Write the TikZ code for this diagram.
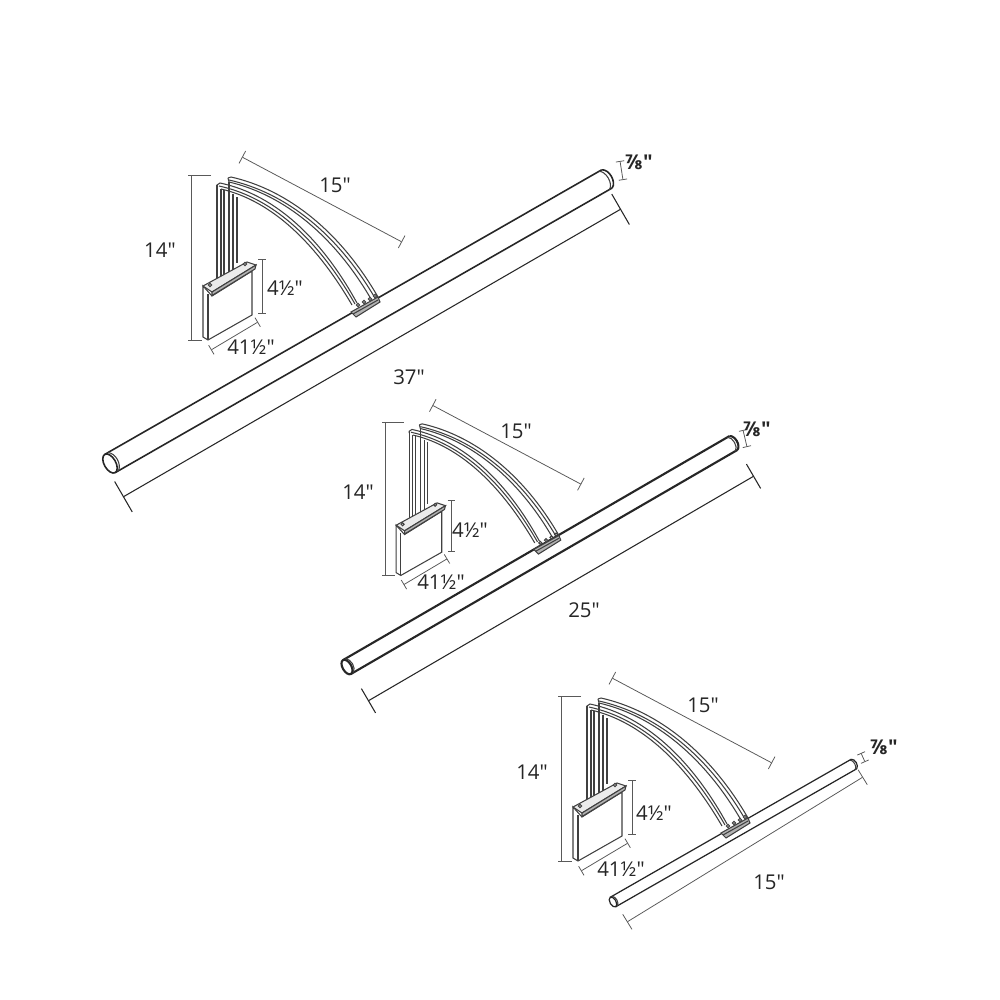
\documentclass[tikz,border=0pt]{standalone}
\usepackage{fontspec}
\newfontfamily\labelfont{Open Sans}
\usetikzlibrary{arrows.meta}
\tikzset{
    x=0.01cm, y=-0.01cm,
    armline/.style={draw=black!75, line width=0.3pt},
    dimline/.style={draw=black!65, line width=0.22pt},
    lenline/.style={draw=black!85, line width=0.3pt},
    dimlabel/.style={font=\labelfont\fontsize{5.8}{6}\selectfont, text=black!85, inner sep=0pt},
    smalllabel/.style={font=\labelfont\fontsize{5.8}{6}\selectfont\bfseries, text=black!85, inner sep=0pt}
}
\newcommand{\lamptube}[6]{
    \begin{scope}[shift={(#1,#2)}, rotate=#3, line width=#6]
        \draw[black!85] (0,#5) -- (#4,#5) (0,-#5) -- (#4,-#5);
        \draw[black!85, fill=white] (0,0) ellipse ({0.55*#5} and #5);
        \draw[armline] ({0.35*#5},#5) .. controls ({0.95*#5},{0.6*#5}) and ({0.95*#5},{-0.6*#5}) .. ({0.35*#5},-#5);
        \draw[black!85] (#4,#5) .. controls ({#4+0.65*#5},{0.7*#5}) and ({#4+0.65*#5},{-0.7*#5}) .. (#4,-#5);
        \draw[armline] ({#4-0.3*#5},#5) .. controls ({#4+0.3*#5},{0.7*#5}) and ({#4+0.3*#5},{-0.7*#5}) .. ({#4-0.3*#5},-#5);
    \end{scope}
}
\newcommand{\lamphead}[3]{
    \begin{scope}[shift={(#1,#2)}, scale=#3]
        % arms
        \draw[armline] (40,2) .. controls (98,15) and (150,58) .. (187,122);
        \draw[armline] (37,3) -- (40,2);
        \draw[armline] (37,3) -- (38,7) .. controls (94,20) and (144,62) .. (180,124);
        \draw[armline] (38,5) .. controls (96,18) and (147,60) .. (184,123);
        \draw[armline] (26,12) -- (26,10) -- (29,8) .. controls (86,20) and (132,66) .. (166,128);
        \draw[armline] (28,11) .. controls (84,23) and (129,68) .. (164,129);
        \draw[armline] (30,14) .. controls (82,26) and (126,70) .. (161,130);
        \draw[armline] (26,10) -- (26,105);
        \draw[armline] (30,14) -- (30,103);
        \draw[armline] (33,15) -- (33,101);
        \draw[armline] (38,7) -- (38,97);
        \draw[armline] (42,19) -- (42,96);
        \draw[armline] (46,22) -- (46,88);
        % mounting plate
        \draw[armline, fill=white] (12,111) -- (12,162) -- (17,165) -- (61,140) -- (61,96) -- (21,121) -- cycle;
        \draw[armline] (17,119) -- (17,165);
        \draw[armline, fill=black!8] (12,111) -- (56,87) -- (65,90) -- (21,117) -- cycle;
        \draw[armline, fill=black!30] (21,117) -- (65,90) -- (64,94) -- (21,120.5) -- cycle;
        \draw[armline, fill=white] (19,110) circle (1.6) (54,89) circle (1.6);
        % clamp on the tube
        \draw[armline, fill=black!30] (160,137) -- (187,122) -- (189,127) -- (165,142) -- cycle;
        \draw[armline] (162,139) -- (187,125);
        \foreach \bx/\by in {167/130, 173/127, 179/124, 184/121}
            \draw[armline, fill=white] (\bx,\by) circle (1.6);
        % dimensions
        \draw[dimline] (20,0) -- (-3,0) (0,0) -- (0,165) (-3,165) -- (11,165);
        \draw[dimline, {Bar[width=2pt]}-{Bar[width=2pt]}] (71,84) -- (71,139);
        \draw[dimline, {Bar[width=3pt]}-{Bar[width=3pt]}] (20,175) -- (67,147);
        \draw[dimline, {Bar[width=4pt]}-{Bar[width=4pt]}] (51,-18) -- (211,67);
    \end{scope}
}
\begin{document}
\begin{tikzpicture}
    \useasboundingbox (0,0) rectangle (1000,1000);
    \fill[white] (0,0) rectangle (1000,1000);

    \lamptube{110}{463.5}{29.8}{572.7}{10.5}{0.45pt}
    \lamptube{347}{667}{30.1}{446.7}{8}{0.6pt}
    \lamptube{613}{902}{29.8}{277.7}{5.5}{0.35pt}

    \lamphead{191}{175}{1}
    \lamphead{385}{422}{0.93}
    \lamphead{561}{696}{1}

    \coordinate (lenAa) at (123,497);
    \coordinate (lenAb) at (621,209);
    \coordinate (lenBa) at (368,701);
    \coordinate (lenBb) at (754,476);
    \coordinate (lenCa) at (627,922);
    \coordinate (lenCb) at (863,777);
    \draw[lenline, {Bar[width=10pt]}-{Bar[width=10pt]}] (lenAa) -- (lenAb);
    \draw[lenline, {Bar[width=8pt]}-{Bar[width=8pt]}] (lenBa) -- (lenBb);
    \draw[dimline, {Bar[width=5pt]}-{Bar[width=5pt]}] (lenCa) -- (lenCb);

    \coordinate (diaAa) at (620,161);
    \coordinate (diaAb) at (623,180);
    \coordinate (diaBa) at (743,430);
    \coordinate (diaBb) at (747,447);
    \coordinate (diaCa) at (861,753);
    \coordinate (diaCb) at (865,762);
    \draw[dimline, {Bar[width=2.4pt]}-{Bar[width=2.4pt]}] (diaAa) -- (diaAb);
    \draw[dimline, {Bar[width=2.4pt]}-{Bar[width=2.4pt]}] (diaBa) -- (diaBb);
    \draw[dimline, {Bar[width=2.4pt]}-{Bar[width=2.4pt]}] (diaCa) -- (diaCb);

    \node[dimlabel] (archA) at (335,185) {15"};
    \node[dimlabel] (highA) at (160,250) {14"};
    \node[dimlabel] (plateA) at (285,288) {4½"};
    \node[dimlabel] (wideA) at (251,347) {41½"};
    \node[dimlabel] (longA) at (409,377) {37"};
    \node[smalllabel] (thickA) at (639,162) {⅞"};

    \node[dimlabel] (archB) at (516,431) {15"};
    \node[dimlabel] (highB) at (358,492) {14"};
    \node[dimlabel] (plateB) at (470,530) {4½"};
    \node[dimlabel] (wideB) at (441,582) {41½"};
    \node[dimlabel] (longB) at (584,610) {25"};
    \node[smalllabel] (thickB) at (757,429) {⅞"};

    \node[dimlabel] (archC) at (703,705) {15"};
    \node[dimlabel] (highC) at (532,772) {14"};
    \node[dimlabel] (plateC) at (654,813) {4½"};
    \node[dimlabel] (wideC) at (621,869) {41½"};
    \node[dimlabel] (longC) at (769,882) {15"};
    \node[smalllabel] (thickC) at (884,747) {⅞"};
\end{tikzpicture}
\end{document}
